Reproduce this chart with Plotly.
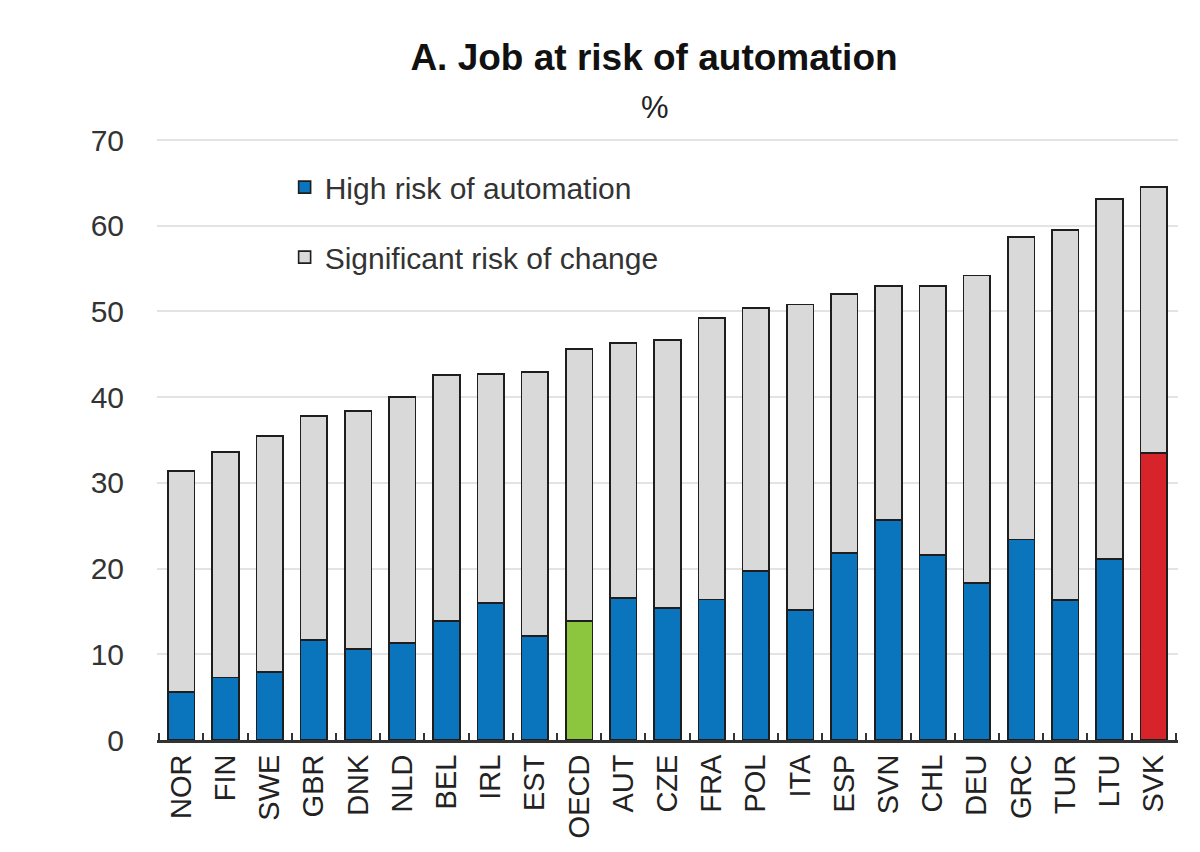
import plotly.graph_objects as go

countries = ["NOR", "FIN", "SWE", "GBR", "DNK", "NLD", "BEL", "IRL", "EST", "OECD",
             "AUT", "CZE", "FRA", "POL", "ITA", "ESP", "SVN", "CHL", "DEU", "GRC",
             "TUR", "LTU", "SVK"]
high_risk = [5.6, 7.3, 7.9, 11.7, 10.6, 11.3, 13.9, 16.0, 12.1, 13.9,
             16.6, 15.4, 16.4, 19.7, 15.2, 21.8, 25.7, 21.6, 18.3, 23.4,
             16.3, 21.1, 33.5]
total_risk = [31.4, 33.6, 35.5, 37.8, 38.4, 40.0, 42.6, 42.7, 42.9, 45.6,
              46.3, 46.7, 49.2, 50.4, 50.8, 52.0, 53.0, 53.0, 54.2, 58.7,
              59.5, 63.1, 64.5]
significant_change = [round(t - h, 1) for t, h in zip(total_risk, high_risk)]
yticks = [0, 10, 20, 30, 40, 50, 60, 70]

BLUE = "#0a74bc"
GREEN = "#8cc63f"
RED = "#d7242a"
GREY = "#d9d9d9"
EDGE = "#1e1e1e"

high_colors = [GREEN if c == "OECD" else RED if c == "SVK" else BLUE for c in countries]

FONT = "Liberation Sans, Arial, sans-serif"

fig = go.Figure()
fig.add_trace(go.Bar(
    x=countries, y=high_risk, name="High risk of automation",
    marker=dict(color=high_colors, line=dict(color=EDGE, width=1.6)),
    legendgroup="a",
))
fig.add_trace(go.Bar(
    x=countries, y=significant_change, name="Significant risk of change",
    marker=dict(color=GREY, line=dict(color=EDGE, width=1.6)),
    legendgroup="b",
))

PLOT_T, PLOT_B = 137, 112
plot_h = 852 - PLOT_T - PLOT_B

fig.update_layout(
    width=1200, height=852,
    barmode="stack", bargap=0.40,
    plot_bgcolor="white", paper_bgcolor="white",
    margin=dict(l=157, r=22, t=PLOT_T, b=PLOT_B),
    font=dict(family=FONT, color="#222222", size=28),
    title=dict(text="<b>A. Job at risk of automation</b>", x=0.545, xanchor="center",
               y=0.933, yanchor="middle", font=dict(family=FONT, size=37, color="#111111")),
    annotations=[dict(text="%", x=(655 - 157) / 1021, xref="paper",
                      y=(852 - PLOT_B - 107) / plot_h, yref="paper", yanchor="middle",
                      showarrow=False, font=dict(family=FONT, size=31, color="#222222"))],
    legend=dict(x=0.125, y=0.96, xanchor="left", yanchor="top",
                bgcolor="rgba(0,0,0,0)", font=dict(family=FONT, size=30, color="#333333"),
                traceorder="grouped", tracegroupgap=28, itemwidth=30),
    showlegend=True,
)

fig.update_yaxes(range=[0, 70.35], tickvals=yticks, showgrid=True, gridcolor="#e3e3e3",
                 gridwidth=2, zeroline=False, showline=False, ticks="",
                 ticklabelstandoff=32, tickfont=dict(size=30, color="#333333"))
fig.update_xaxes(showline=True, linecolor="#333333", linewidth=3, ticks="inside",
                 tickson="boundaries", ticklen=7, tickwidth=2, tickcolor="#333333",
                 tickangle=-90, tickfont=dict(size=29, color="#222222"),
                 range=[-0.55, len(countries) - 0.45])

fig.write_html("out.html")
